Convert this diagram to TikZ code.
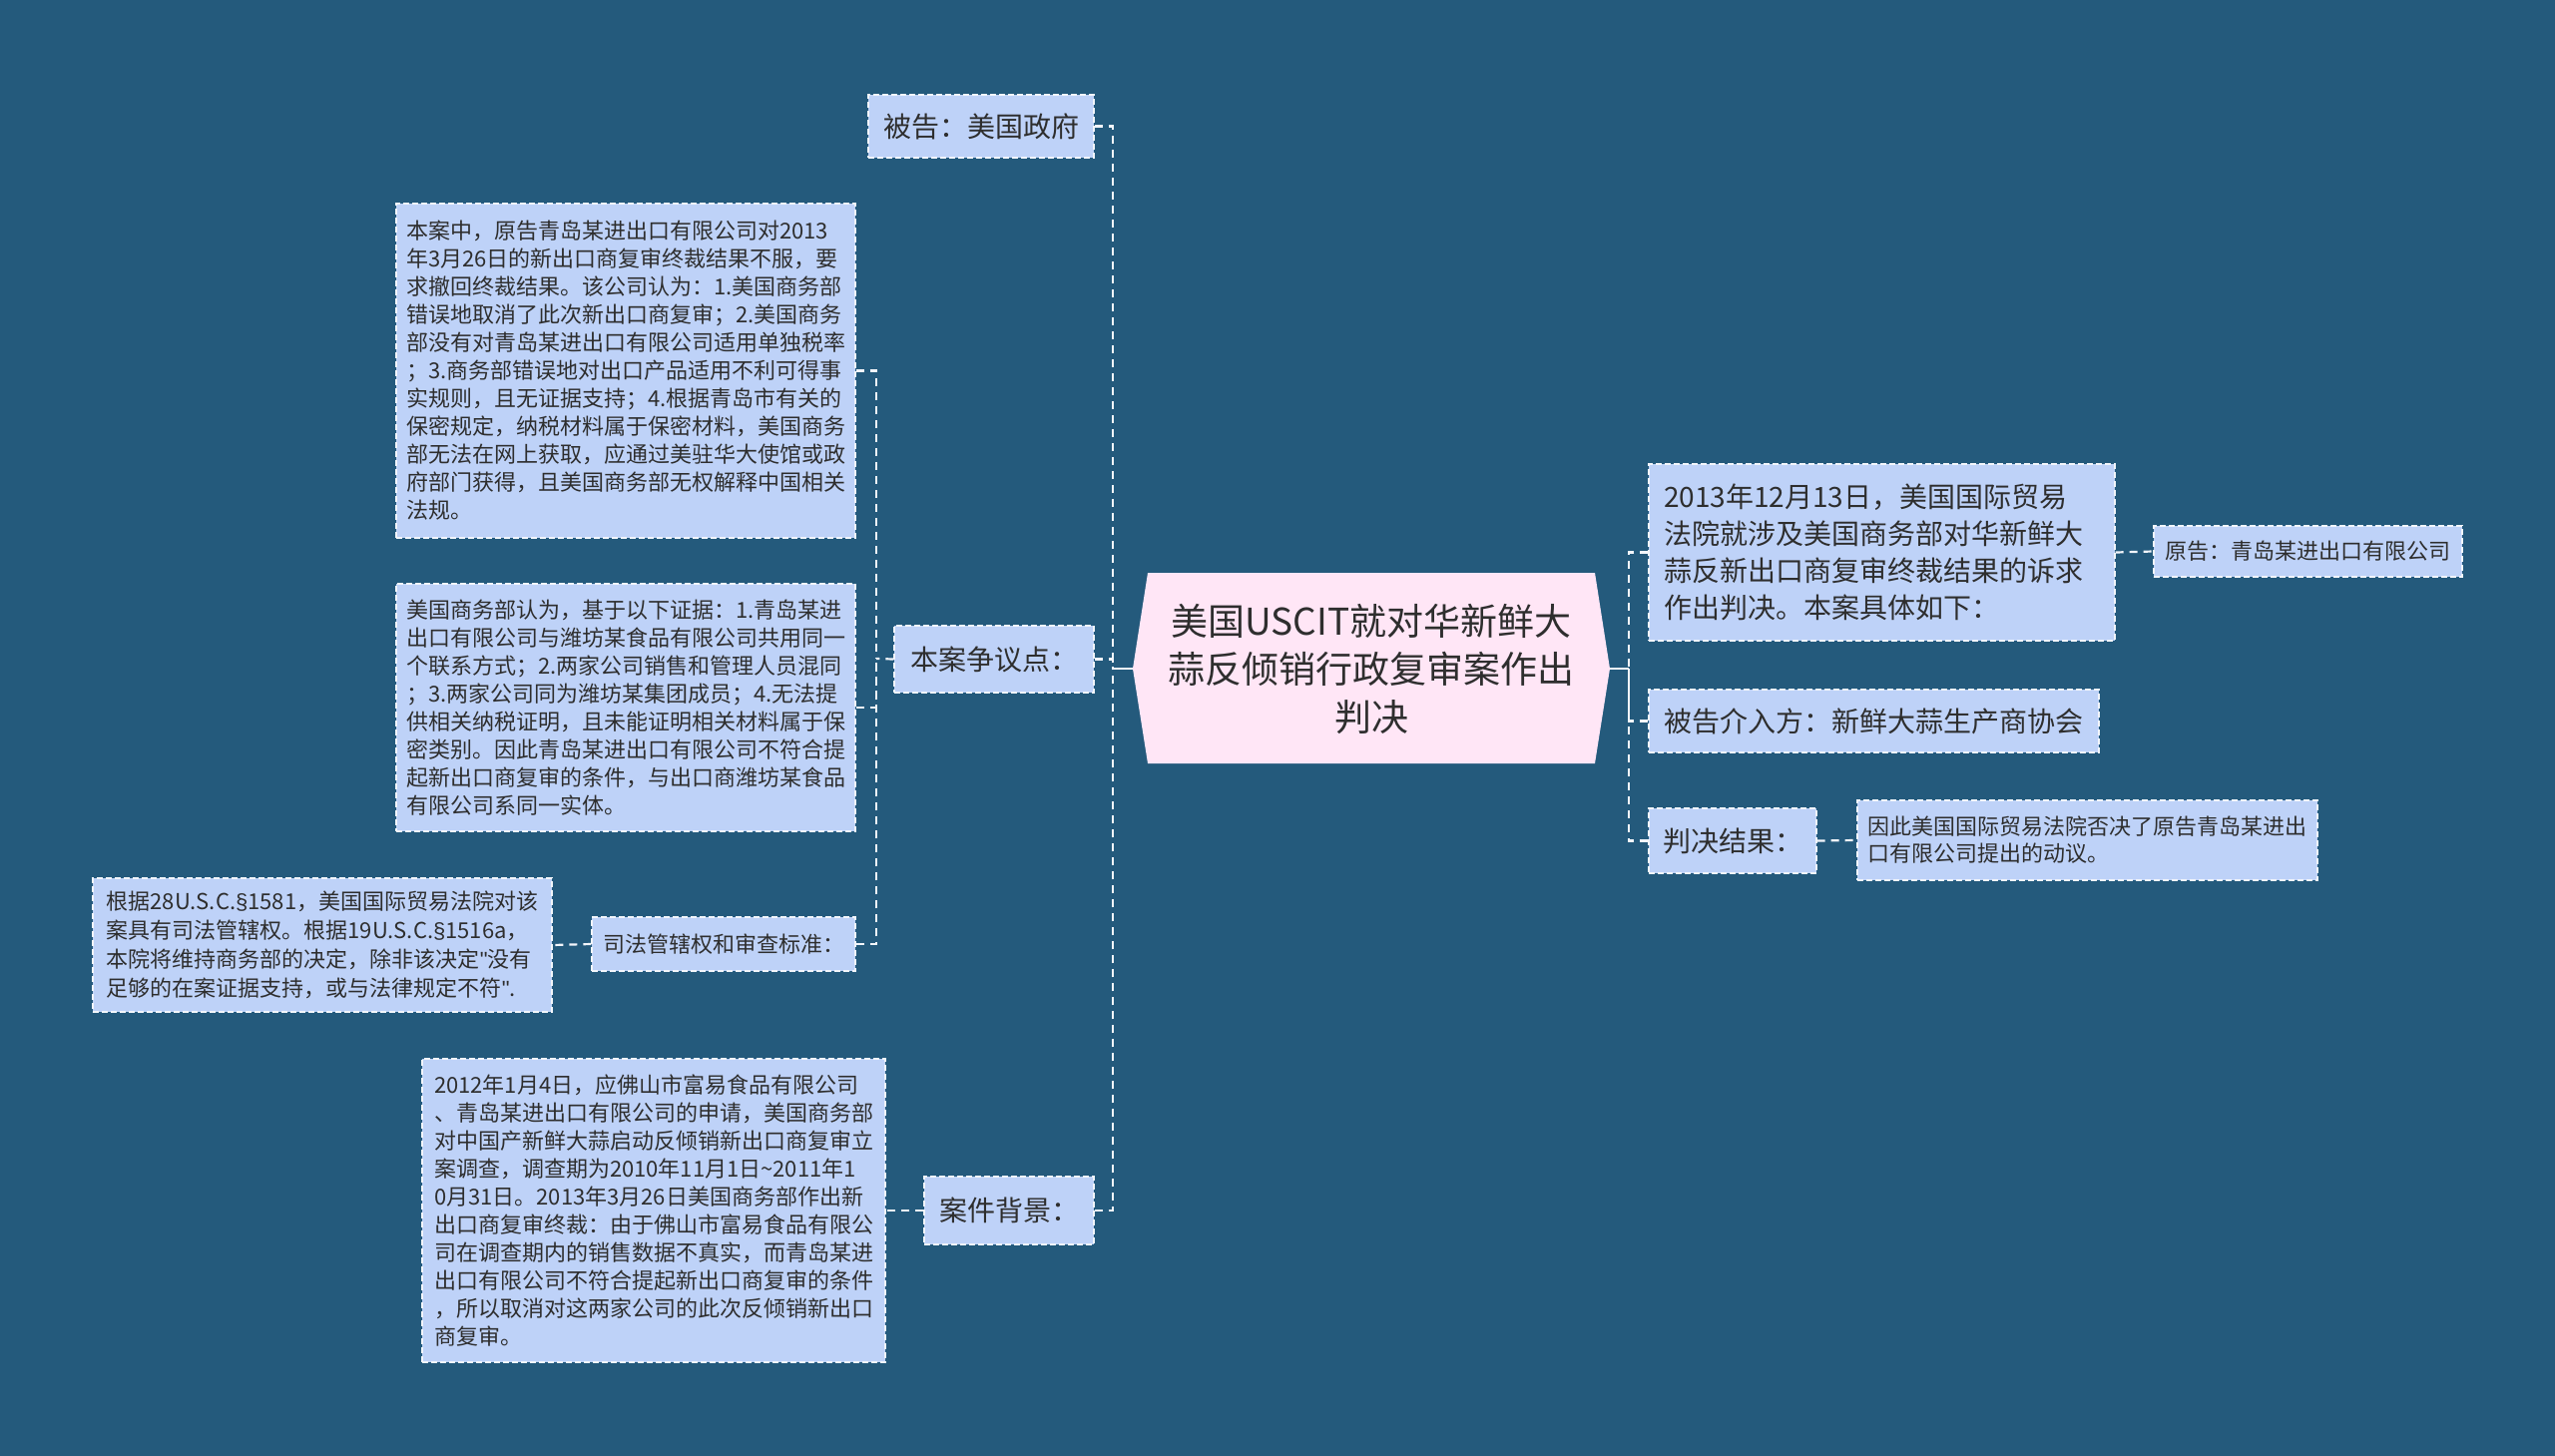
\documentclass[tikz,border=0pt]{standalone}
\usepackage{fontspec}
\setmainfont{Noto Sans CJK SC}
\newfontfamily\latf{Liberation Sans}
\definecolor{bg}{HTML}{245A7C}
\definecolor{boxc}{HTML}{BED2F8}
\definecolor{centc}{HTML}{FFE6F6}
\definecolor{txt}{HTML}{2E2E2E}
\definecolor{lnc}{HTML}{F2F5FA}
\tikzset{
  box/.style={draw=lnc, dash pattern=on 6pt off 3pt, line width=1.4pt, fill=boxc, text=txt, align=left, inner sep=0pt, anchor=center},
  fbig/.style={font={\fontsize{28pt}{37pt}\selectfont}},
  fsmall/.style={font={\fontsize{22pt}{28pt}\selectfont}},
  conn/.style={draw=lnc, dash pattern=on 8pt off 6pt, line width=2.2pt},
  stub/.style={draw=lnc, line width=2.2pt}
}
\begin{document}
\begin{tikzpicture}[x=1pt,y=-1pt]
\useasboundingbox (0,0) rectangle (2560,1459);
\fill[bg] (0,0) rectangle (2560,1459);

% central topic
\fill[centc] (1150,574) -- (1598,574) -- (1613,670) -- (1598,765) -- (1150,765) -- (1135,670) -- cycle;
\node[text=txt, align=center, font={\fontsize{37pt}{48pt}\selectfont}, minimum width=478pt, minimum height=191pt, inner sep=0pt] (c) at (1374,670) {美国USCIT就对华新鲜大\\蒜反倾销行政复审案作出\\判决};

% left side
\node[box, fbig, minimum width=226pt, minimum height=63pt] (ndef) at (983,126.5) {被告：美国政府};
\node[box, fbig, minimum width=200pt, minimum height=67pt] (ndisp) at (996,660.5) {本案争议点：};
\node[box, fbig, minimum width=170pt, minimum height=68pt] (nbg) at (1011,1213) {案件背景：};

\node[box, fsmall, minimum width=460pt, minimum height=335pt] (na) at (627,371.5) {本案中，原告青岛某进出口有限公司对2013\\年3月26日的新出口商复审终裁结果不服，要\\求撤回终裁结果。该公司认为：1.美国商务部\\错误地取消了此次新出口商复审；2.美国商务\\部没有对青岛某进出口有限公司适用单独税率\\；3.商务部错误地对出口产品适用不利可得事\\实规则，且无证据支持；4.根据青岛市有关的\\保密规定，纳税材料属于保密材料，美国商务\\部无法在网上获取，应通过美驻华大使馆或政\\府部门获得，且美国商务部无权解释中国相关\\法规。};
\node[box, fsmall, minimum width=460pt, minimum height=248pt] (nb) at (627,709) {美国商务部认为，基于以下证据：1.青岛某进\\出口有限公司与潍坊某食品有限公司共用同一\\个联系方式；2.两家公司销售和管理人员混同\\；3.两家公司同为潍坊某集团成员；4.无法提\\供相关纳税证明，且未能证明相关材料属于保\\密类别。因此青岛某进出口有限公司不符合提\\起新出口商复审的条件，与出口商潍坊某食品\\有限公司系同一实体。};
\node[box, fsmall, minimum width=264pt, minimum height=54pt] (nc) at (725,946) {司法管辖权和审查标准：};
\node[box, font={\fontsize{22pt}{29pt}\selectfont}, minimum width=460pt, minimum height=134pt] (nd) at (323,947) {根据28U.S.C.{\latf §}1581，美国国际贸易法院对该\\案具有司法管辖权。根据19U.S.C.{\latf §}1516a，\\本院将维持商务部的决定，除非该决定{\latf "}没有\\足够的在案证据支持，或与法律规定不符{\latf "}.};
\node[box, fsmall, minimum width=464pt, minimum height=304pt] (ne) at (655,1213) {2012年1月4日，应佛山市富易食品有限公司\\、青岛某进出口有限公司的申请，美国商务部\\对中国产新鲜大蒜启动反倾销新出口商复审立\\案调查，调查期为2010年11月1日\textasciitilde 2011年1\\0月31日。2013年3月26日美国商务部作出新\\出口商复审终裁：由于佛山市富易食品有限公\\司在调查期内的销售数据不真实，而青岛某进\\出口有限公司不符合提起新出口商复审的条件\\，所以取消对这两家公司的此次反倾销新出口\\商复审。};

% right side
\node[box, fbig, minimum width=467pt, minimum height=177pt, text width=437pt, inner xsep=15pt] (nr1) at (1885.5,553.5) {2013年12月13日，美国国际贸易\\法院就涉及美国商务部对华新鲜大\\蒜反新出口商复审终裁结果的诉求\\作出判决。本案具体如下：};
\node[box, fsmall, minimum width=309pt, minimum height=51pt] (nr1a) at (2312.5,552.5) {原告：青岛某进出口有限公司};
\node[box, fbig, minimum width=451pt, minimum height=63pt] (nr2) at (1877.5,722.5) {被告介入方：新鲜大蒜生产商协会};
\node[box, fbig, minimum width=168pt, minimum height=65pt] (nr3) at (1736,842.5) {判决结果：};
\node[box, font={\fontsize{22pt}{27pt}\selectfont}, minimum width=461pt, minimum height=80pt] (nr3a) at (2091.5,842) {因此美国国际贸易法院否决了原告青岛某进出\\口有限公司提出的动议。};

% trunk coordinates
\coordinate (tl) at (1115,670);
\coordinate (tm) at (878,660);
\coordinate (tr) at (1632,670);

% connectors
\draw[stub] (c.west) -- (tl);
\draw[conn] (ndef.east) -| (tl);
\draw[conn] (ndisp.east) -| (tl);
\draw[conn] (nbg.east) -| (tl);

\draw[conn] (ndisp.west) -- (tm);
\draw[conn] (na.east) -| (tm);
\draw[conn] (nb.east) -| (tm);
\draw[conn] (nc.east) -| (tm);
\draw[conn] (nc.west) -- (nd.east);
\draw[conn] (nbg.west) -- (ne.east);

\draw[stub] (c.east) -- (tr);
\draw[conn] (nr1.west) -| (tr);
\draw[conn] (nr2.west) -| (tr);
\draw[conn] (nr3.west) -| (tr);
\draw[conn] (nr1.east) -- (nr1a.west);
\draw[conn] (nr3.east) -- (nr3a.west);
\end{tikzpicture}
\end{document}
